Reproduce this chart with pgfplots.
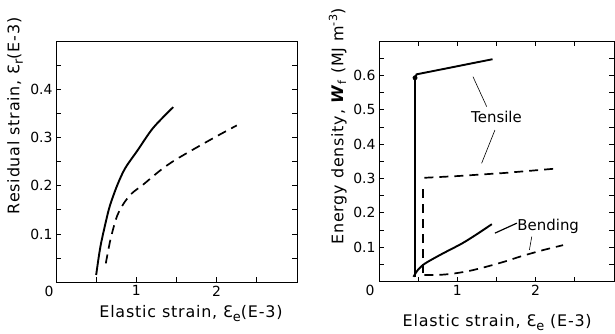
\documentclass[border=0pt]{standalone}
\usepackage{fontspec}
\setmainfont{DejaVu Sans}
\newfontfamily\labfont{DejaVu Sans}[LetterSpace=5]
\usepackage{pgfplots}
\pgfplotsset{compat=1.18}
\newcommand{\eps}[1]{Ɛ\raisebox{-0.4ex}{\fontsize{13}{13}\selectfont #1}}
\pgfplotsset{paper/.style={
  scale only axis,
  axis line style={line width=0.9pt},
  tick align=inside,
  major tick length=5bp, minor tick length=5bp,
  every tick/.style={line width=0.8pt, black},
  /pgf/number format/assume math mode=true,
  tick label style={font=\fontsize{14}{14}\selectfont},
  label style={font=\labfont\fontsize{16}{18}\selectfont},
  xmin=0, xmax=3,
  xtick={1,2}, xticklabels={1,2},
  minor xtick={0.5,1.5,2.5},
  extra x ticks={0}, extra x tick labels={0},
}}
\tikzset{solidc/.style={black, line width=1.9bp},
         dashc/.style={black, line width=1.7bp, dash pattern=on 9bp off 6bp}}
\begin{document}
\begin{tikzpicture}
\path (0,0) rectangle (615bp,329bp);
\begin{axis}[paper, at={(56bp,46.8bp)}, anchor=south west,
  width=241bp, height=241.2bp, ymin=0, ymax=0.5,
  xtick pos=bottom, ytick pos=both,
  extra x tick style={major tick length=0pt, xticklabel style={xshift=-7bp}},
  ytick={0.1,0.2,0.3,0.4}, yticklabels={0.1,0.2,0.3,0.4},
  minor ytick={0.05,0.15,0.25,0.35,0.45},
  xlabel={Elastic strain, \eps{e}(E-3)},
  xlabel style={at={(axis description cs:0.56,-0.13)}, anchor=center},
  ylabel={Residual strain, \eps{r}(E-3)},
  ylabel style={at={(axis description cs:-0.17,0.69)}, anchor=center},
]
\addplot[solidc, smooth, tension=0.5] coordinates {(0.50,0.015)(0.53,0.05)(0.56,0.08)(0.62,0.125)(0.67,0.158)(0.76,0.2)(0.86,0.236)(1.01,0.272)(1.21,0.32)(1.46,0.363)};
\addplot[dashc, smooth, tension=0.5] coordinates {(0.62,0.039)(0.68,0.09)(0.76,0.137)(0.85,0.165)(0.95,0.185)(1.09,0.203)(1.3,0.232)(1.5,0.255)(1.94,0.297)(2.25,0.325)};
\end{axis}
\begin{axis}[paper, at={(379bp,47.4bp)}, anchor=south west,
  width=235bp, height=240.6bp, ymin=0, ymax=0.7,
  extra x tick style={major tick length=0pt, xticklabel style={xshift=-9bp}},
  ytick={0.1,0.2,0.3,0.4,0.5,0.6}, yticklabels={0.1,0.2,0.3,0.4,0.5,0.6},
  minor ytick={0.05,0.15,0.25,0.35,0.45,0.55,0.65},
  xlabel={Elastic strain, \eps{e} (E-3)},
  xlabel style={at={(axis description cs:0.503,-0.17)}, anchor=center},
  ylabel={Energy density, \textbf{\textit{W}}\textsubscript{f} (MJ m\textsuperscript{-3})},
  ylabel style={at={(axis description cs:-0.175,0.646)}, anchor=center},
]
\addplot[solidc] coordinates {(0.46,0.014)(0.46,0.593)(0.48,0.603)(1.45,0.647)};
\addplot[only marks, mark=*, mark size=2.2bp, black] coordinates {(0.46,0.593)};
\addplot[dashc] coordinates {(0.565,0.025)(0.565,0.285)};
\addplot[dashc] coordinates {(0.58,0.302)(1.0,0.307)(1.6,0.316)(2.27,0.329)};
\addplot[solidc, smooth, tension=0.5] coordinates {(0.44,0.014)(0.5,0.035)(0.59,0.053)(0.80,0.080)(1.06,0.111)(1.25,0.138)(1.44,0.167)};
\addplot[dashc, smooth, tension=0.5] coordinates {(0.58,0.019)(0.8,0.02)(0.97,0.024)(1.15,0.031)(1.35,0.042)(1.6,0.058)(1.82,0.074)(2.1,0.092)(2.35,0.106)};
\node[font=\fontsize{15}{15}\selectfont] at (axis cs:1.50,0.48) {Tensile};
\node[font=\fontsize{15}{15}\selectfont] at (axis cs:2.16,0.16) {Bending};
\draw[line width=0.6pt] (axis cs:1.20,0.596) -- (axis cs:1.375,0.509);
\draw[line width=0.6pt] (axis cs:1.48,0.441) -- (axis cs:1.31,0.344);
\draw[line width=1.2pt] (axis cs:1.48,0.141) -- (axis cs:1.76,0.17);
\draw[line width=0.6pt] (axis cs:1.95,0.131) -- (axis cs:1.92,0.092);
\end{axis}
\end{tikzpicture}
\end{document}
